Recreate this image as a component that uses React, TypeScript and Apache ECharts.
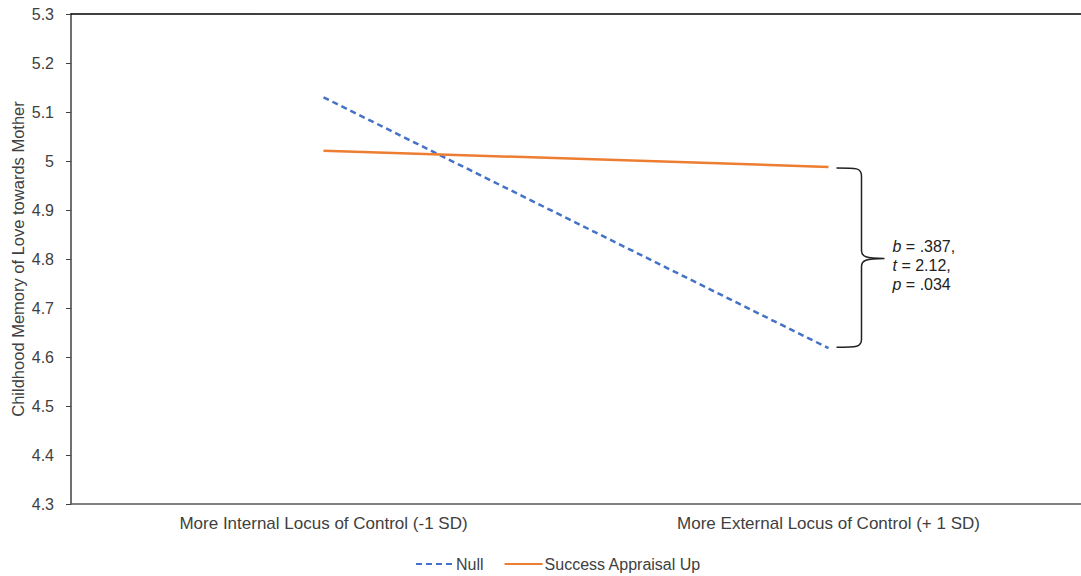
import React, { useEffect, useRef } from "react";
import * as echarts from "echarts";

const categories = [
  "More Internal Locus of Control (-1 SD)",
  "More External Locus of Control (+ 1 SD)",
];
const nullValues = [5.13, 4.618];
const successValues = [5.021, 4.988];
const yTicks = { min: 4.3, max: 5.3, interval: 0.1 };
const annotationLines = ["{i|b} = .387,", "{i|t} = 2.12,", "{i|p} = .034"];

const FONT = "'Liberation Sans', Arial, sans-serif";
const TEXT = "#404040";

export default function App() {
  const ref = useRef<HTMLDivElement>(null);
  useEffect(() => {
    if (!ref.current) return;
    const chart = echarts.init(ref.current, null, { renderer: "svg" });
    chart.setOption({
      animation: false,
      textStyle: { fontFamily: FONT },
      grid: { left: 71, right: 0, top: 14, bottom: 72, outerBoundsMode: "none", containLabel: false },
      legend: {
        data: ["Null", "Success Appraisal Up"],
        left: 410,
        top: 551,
        itemWidth: 38,
        itemHeight: 12,
        itemGap: 20,
        itemStyle: { opacity: 0 },
        textStyle: { fontSize: 16, color: TEXT, fontFamily: FONT, padding: [0, 0, 0, -3] },
      },
      xAxis: [
        {
          type: "category",
          data: categories,
          axisLine: { lineStyle: { color: "#595959", width: 1.5 } },
          axisTick: { show: false },
          axisLabel: { fontSize: 17, color: TEXT, margin: 11, fontFamily: FONT },
        },
        {
          type: "category",
          data: categories,
          position: "top",
          axisLine: { lineStyle: { color: "#000", width: 1.5 } },
          axisTick: { show: false },
          axisLabel: { show: false },
        },
      ],
      yAxis: {
        type: "value",
        min: yTicks.min,
        max: yTicks.max,
        interval: yTicks.interval,
        name: "Childhood Memory of Love towards Mother",
        nameLocation: "middle",
        nameGap: 45,
        nameMoveOverlap: false,
        nameTextStyle: { fontSize: 16.5, color: TEXT, fontFamily: FONT },
        axisLine: { show: true, lineStyle: { color: "#404040", width: 1.5 } },
        axisTick: { show: true, length: 5, lineStyle: { color: "#404040" } },
        splitLine: { show: false },
        axisLabel: { fontSize: 16, color: TEXT, margin: 17, fontFamily: FONT },
      },
      series: [
        {
          name: "Null",
          type: "line",
          data: nullValues,
          symbol: "none",
          lineStyle: { color: "#4472C4", width: 2.5, type: [6, 4] },
          itemStyle: { color: "#4472C4" },
        },
        {
          name: "Success Appraisal Up",
          type: "line",
          data: successValues,
          symbol: "none",
          lineStyle: { color: "#ED7D31", width: 2.5 },
          itemStyle: { color: "#ED7D31" },
        },
        {
          type: "custom",
          coordinateSystem: "cartesian2d",
          data: [[1, successValues[1], nullValues[1]]],
          renderItem: (params: any, api: any) => {
            const top = api.coord([api.value(0), api.value(1)]);
            const bot = api.coord([api.value(0), api.value(2)]);
            const x0 = top[0] + 8;
            const x1 = x0 + 25;
            const x2 = x0 + 48;
            const yT = top[1] + 1;
            const yB = bot[1] - 1;
            const ym = (yT + yB) / 2 + 1;
            const d =
              `M${x0} ${yT} C${x0 + 20} ${yT} ${x1} ${yT} ${x1} ${yT + 8} ` +
              `L${x1} ${ym - 8} C${x1} ${ym - 2} ${x1 + 4} ${ym} ${x2} ${ym} ` +
              `M${x2} ${ym} C${x1 + 4} ${ym} ${x1} ${ym + 2} ${x1} ${ym + 8} ` +
              `L${x1} ${yB - 8} C${x1} ${yB} ${x0 + 20} ${yB} ${x0} ${yB}`;
            return {
              type: "group",
              children: [
                {
                  type: "path",
                  shape: { pathData: d },
                  style: { fill: "none", stroke: "#222", lineWidth: 1.5 },
                },
                {
                  type: "text",
                  style: {
                    x: x2 + 8,
                    y: ym + 7,
                    text: annotationLines.join("\n"),
                    fontSize: 16,
                    fontFamily: FONT,
                    fill: "#222",
                    lineHeight: 19,
                    verticalAlign: "middle",
                    align: "left",
                    rich: {
                      i: { fontStyle: "italic", fontSize: 16, fontFamily: FONT, fill: "#222", lineHeight: 19 },
                    },
                  },
                },
              ],
            };
          },
        },
      ],
    });
    return () => chart.dispose();
  }, []);
  return (
    <div
      ref={ref}
      style={{ position: "fixed", left: 0, top: 0, width: 1081, height: 576, background: "#fff" }}
    />
  );
}
